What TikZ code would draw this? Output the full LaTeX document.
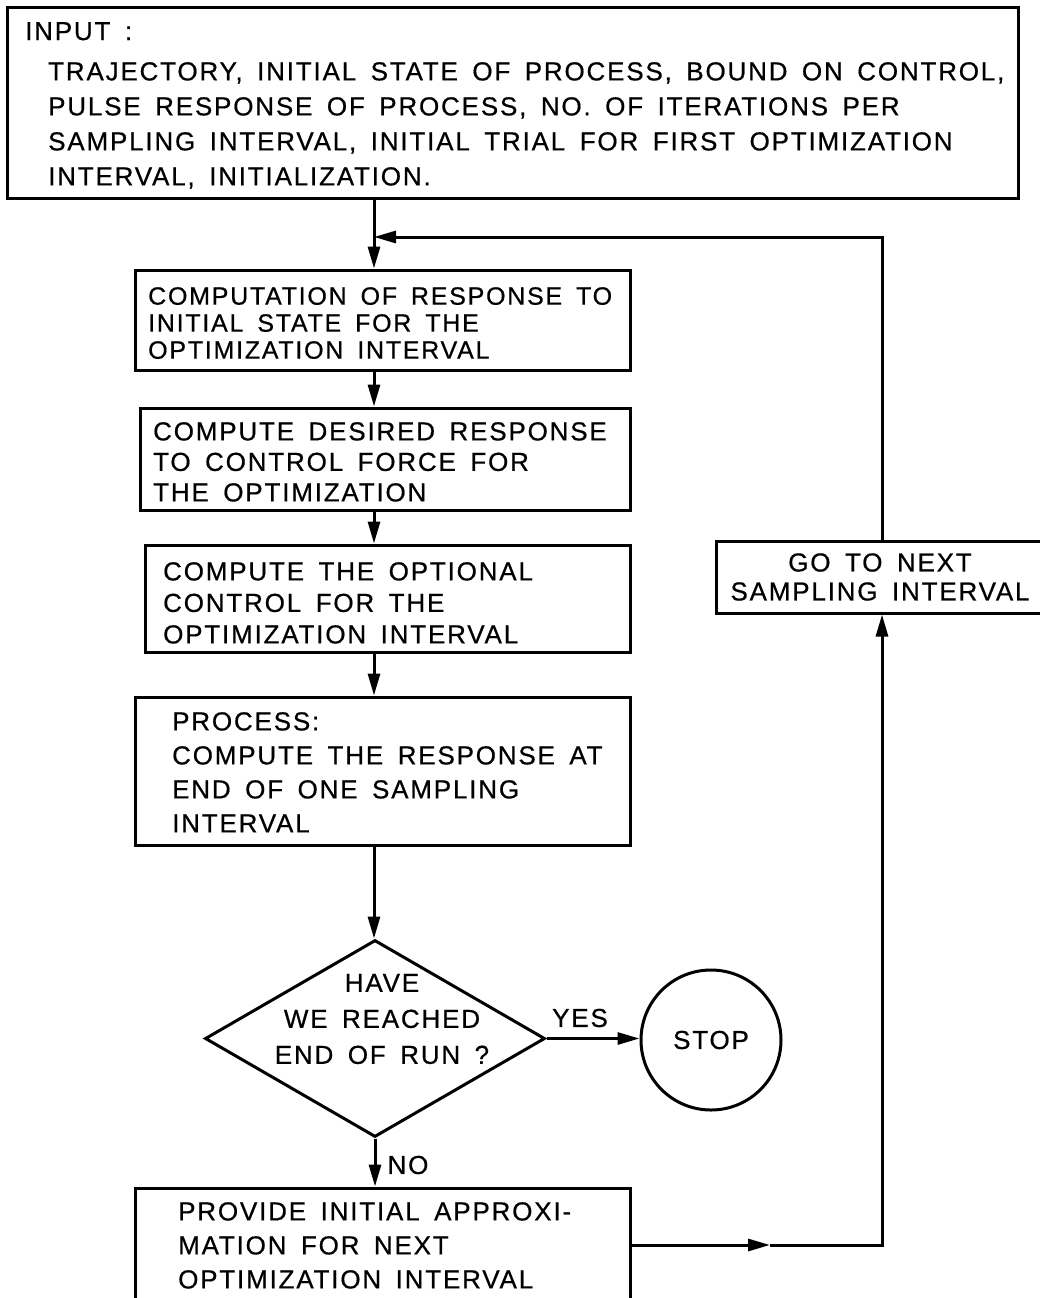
\documentclass[tikz,border=0pt]{standalone}
\usepackage{fontspec}
\setmainfont{Liberation Sans}
\newfontfamily\lettering[LetterSpace=7,WordSpace=1.6,FakeBold=0.6]{Liberation Sans}
\usetikzlibrary{arrows.meta,shapes.geometric}
\begin{document}
\begin{tikzpicture}[x=1pt,y=-1pt,
  lw/.style={line width=3pt},
  box/.style={draw, lw, rectangle, inner sep=0pt},
  txt/.style={inner sep=0pt, anchor=north west, align=left},
  ctxt/.style={inner sep=0pt, align=center},
  arr/.style={lw, -{Triangle[length=22pt,width=12pt]}}]
\useasboundingbox (0,0) rectangle (1039,1298);
% boxes
\node[box, minimum width=1011pt, minimum height=190pt] (inp) at (512.5,103) {};
\node[box, minimum width=495pt, minimum height=100pt] (b1) at (382.5,320) {};
\node[box, minimum width=490pt, minimum height=102pt] (b2) at (385,459) {};
\node[box, minimum width=485pt, minimum height=107pt] (b3) at (387.5,598.5) {};
\node[box, minimum width=495pt, minimum height=148pt] (b4) at (382.5,771) {};
\node[box, minimum width=495pt, minimum height=132pt] (b5) at (382.5,1254) {};
\node[box, minimum width=332pt, minimum height=72pt] (goto) at (882,577) {};
\node[draw, lw, diamond, minimum width=340pt, minimum height=197pt, inner sep=0pt] (dia) at (375,1038.5) {};
\node[draw, lw, circle, minimum size=140pt, inner sep=0pt, font=\lettering\fontsize{26}{30}\selectfont] (stop) at (711,1040) {STOP};
% texts
\node[txt, font=\lettering\fontsize{26}{35}\selectfont] (tin0) at (25,22) {INPUT :};
\node[txt, font=\lettering\fontsize{26}{35}\selectfont] (tin) at (48,62) {TRAJECTORY, INITIAL STATE OF PROCESS, BOUND ON CONTROL,\\PULSE RESPONSE OF PROCESS, NO. OF ITERATIONS PER\\SAMPLING INTERVAL, INITIAL TRIAL FOR FIRST OPTIMIZATION\\INTERVAL, INITIALIZATION.};
\node[txt, font=\lettering\fontsize{25}{27}\selectfont] (t1) at (148,287) {COMPUTATION OF RESPONSE TO\\INITIAL STATE FOR THE\\OPTIMIZATION INTERVAL};
\node[txt, font=\lettering\fontsize{26}{30.5}\selectfont] (t2) at (153,422) {COMPUTE DESIRED RESPONSE\\TO CONTROL FORCE FOR\\THE OPTIMIZATION};
\node[txt, font=\lettering\fontsize{26}{31.5}\selectfont] (t3) at (163,562) {COMPUTE THE OPTIONAL\\CONTROL FOR THE\\OPTIMIZATION INTERVAL};
\node[txt, font=\lettering\fontsize{26}{34}\selectfont] (t4) at (172,712) {PROCESS:\\COMPUTE THE RESPONSE AT\\END OF ONE SAMPLING\\INTERVAL};
\node[txt, font=\lettering\fontsize{26}{34}\selectfont] (t5) at (178,1202) {PROVIDE INITIAL APPROXI-\\MATION FOR NEXT\\OPTIMIZATION INTERVAL};
\node[ctxt, font=\lettering\fontsize{26}{29}\selectfont] (tg) at (880,577) {GO TO NEXT\\SAMPLING INTERVAL};
\node[ctxt, font=\lettering\fontsize{26}{36}\selectfont] (td) at (382,1019) {HAVE\\WE REACHED\\END OF RUN ?};
\node[ctxt, font=\lettering\fontsize{26}{30}\selectfont] (yes) at (580,1018) {YES};
\node[ctxt, font=\lettering\fontsize{26}{30}\selectfont] (no) at (408,1165) {NO};
% connectors
\coordinate (j) at (374,237);
\coordinate (m) at (770,1245);
\coordinate (c) at (goto.south |- m);
\draw[arr] (j |- inp.south) -- (j |- b1.north);
\draw[arr] (goto.north) |- (j);
\draw[arr] (j |- b1.south) -- (j |- b2.north);
\draw[arr] (j |- b2.south) -- (j |- b3.north);
\draw[arr] (j |- b3.south) -- (j |- b4.north);
\draw[arr] (j |- b4.south) -- (j |- dia.north);
\draw[arr] (dia.east) -- (dia.east -| stop.west);
\draw[arr] (dia.south) -- (dia.south |- b5.north);
\draw[arr] (b5.east |- m) -- (m);
\draw[arr] (m) -- (c) -- (goto.south);
\end{tikzpicture}
\end{document}
